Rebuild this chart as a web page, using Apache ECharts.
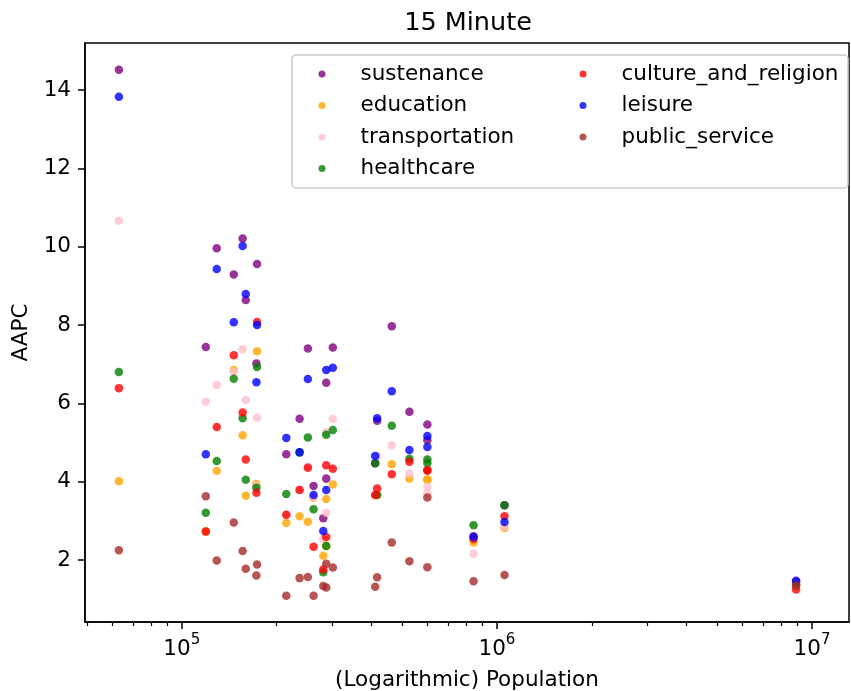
<!DOCTYPE html>
<html>
<head>
<meta charset="utf-8">
<script src="https://cdn.jsdelivr.net/npm/echarts@6/dist/echarts.min.js"></script>
<style>html,body{margin:0;padding:0;background:#fff;}#c{width:851px;height:691px;}</style>
</head>
<body>
<div id="c"></div>
<script>
// Population of each city (x values)
const population = [63150, 119200, 129100, 146200, 156000, 159600, 173300, 172500, 214600, 236500, 251200, 261900, 281200, 287300, 287300, 301500, 416800, 410800, 463800, 527600, 601600, 601600, 843100, 1057000, 8900000];
// AAPC per category (same city order)
const sustenance         = [14.52, 7.44, 9.96, 9.29, 10.21, 8.64, 9.56, 7.02, 4.70, 5.61, 7.40, 3.89, 3.07, 6.53, 4.08, 7.43, 5.56, 4.47, 7.97, 5.79, 5.46, 5.06, 2.61, 3.40, 1.45];
const education          = [4.01, 2.73, 4.28, 6.85, 5.19, 3.64, 7.33, 3.94, 2.95, 3.12, 2.98, 3.60, 2.11, 3.56, 2.36, 3.93, 3.66, 3.66, 4.45, 4.08, 4.06, 4.05, 2.45, 2.82, 1.35];
const transportation     = [10.66, 6.04, 6.47, 6.81, 7.38, 6.09, 5.64, 3.90, 3.16, 3.80, 4.38, 3.62, 2.53, 5.27, 3.21, 5.60, 4.66, 3.66, 4.93, 4.21, 3.87, 3.70, 2.16, 2.85, 1.40];
const healthcare         = [6.80, 3.21, 4.53, 6.63, 5.62, 4.05, 6.93, 3.85, 3.69, 4.75, 5.13, 3.30, 1.69, 5.20, 2.36, 5.32, 3.66, 4.47, 5.43, 4.59, 4.57, 4.47, 2.89, 3.40, 1.38];
const culture_and_religion = [6.39, 2.73, 5.40, 7.23, 5.77, 4.57, 8.08, 3.72, 3.16, 3.79, 4.36, 2.34, 1.76, 4.42, 2.59, 4.33, 3.83, 3.66, 4.19, 4.51, 4.28, 4.30, 2.54, 3.12, 1.25];
const leisure            = [13.83, 4.70, 9.43, 8.07, 10.02, 8.79, 8.00, 6.54, 5.12, 4.75, 6.62, 3.66, 2.74, 6.85, 3.79, 6.91, 5.62, 4.66, 6.31, 4.81, 5.17, 4.89, 2.59, 2.97, 1.47];
const public_service     = [2.25, 3.63, 1.99, 2.96, 2.23, 1.78, 1.89, 1.61, 1.09, 1.54, 1.57, 1.09, 1.34, 1.91, 1.30, 1.81, 1.56, 1.32, 2.45, 1.97, 3.60, 1.82, 1.46, 1.62, 1.35];

const categories = ['sustenance','education','transportation','healthcare','culture_and_religion','leisure','public_service'];
const seriesValues = [sustenance, education, transportation, healthcare, culture_and_religion, leisure, public_service];
const colors = ['#800080','#FFA500','#FFC0CB','#008000','#FF0000','#0000FF','#A52A2A'];

const yTicks = [2, 4, 6, 8, 10, 12, 14];
const xMajor = [1e5, 1e6, 1e7];
const xMinor = [5e4,6e4,7e4,8e4,9e4,2e5,3e5,4e5,5e5,6e5,7e5,8e5,9e5,2e6,3e6,4e6,5e6,6e6,7e6,8e6,9e6];

const FONT = 'DejaVu Sans';
const FS = 21.5;

const chart = echarts.init(document.getElementById('c'), null, {renderer:'canvas'});

const series = categories.map((name, k) => ({
  name: name,
  type: 'scatter',
  symbol: 'circle',
  symbolSize: 8.5,
  itemStyle: {color: colors[k], opacity: 0.8},
  emphasis: {disabled: true},
  data: population.map((p, i) => [p, seriesValues[k][i]])
}));

const legendCommon = {
  orient: 'vertical',
  icon: 'circle',
  itemWidth: 7,
  itemHeight: 7,
  itemGap: 7.5,
  padding: 5,
  selectedMode: false,
  textStyle: {fontFamily: FONT, fontSize: FS, color: '#000', lineHeight: 24, padding: [0,0,0,30]}
};

chart.setOption({
  animation: false,
  backgroundColor: '#fff',
  title: {
    text: '15 Minute',
    left: 463, top: 5,
    textAlign: 'center',
    textStyle: {fontFamily: FONT, fontSize: 25.5, fontWeight: 'normal', color: '#000'}
  },
  grid: {left: 85, right: 2, top: 43, bottom: 69, show: true, borderColor: '#000', borderWidth: 1.5, backgroundColor: 'transparent', outerBoundsMode: 'none', containLabel: false},
  graphic: [{
    type: 'rect', shape: {x: 292, y: 55, width: 556, height: 133, r: 4},
    style: {fill: 'rgba(255,255,255,0.8)', stroke: '#cccccc', lineWidth: 1.5}, z: 50
  }],
  legend: [
    Object.assign({data: categories.slice(0,4), left: 313.5, top: 57, z: 60}, legendCommon),
    Object.assign({data: categories.slice(4), left: 574.5, top: 57, z: 60}, legendCommon)
  ],
  xAxis: [{
    type: 'log', min: 49300, max: 1.31e7, logBase: 10,
    name: '(Logarithmic) Population', nameLocation: 'middle', nameGap: 47,
    nameTextStyle: {fontFamily: FONT, fontSize: FS, color: '#000'},
    axisLine: {show: true, lineStyle: {color: '#000', width: 1.5}},
    axisTick: {show: true, customValues: xMajor, length: 7, lineStyle: {color: '#000', width: 1.5}},
    axisLabel: {
      customValues: xMajor, margin: 11, color: '#000', fontFamily: FONT,
      formatter: v => '{b|10}{s|' + Math.round(Math.log10(v)) + '}',
      rich: {
        b: {fontFamily: FONT, fontSize: FS, color: '#000', lineHeight: 27, verticalAlign: 'bottom'},
        s: {fontFamily: FONT, fontSize: 15, color: '#000', lineHeight: 15, verticalAlign: 'top'}
      }
    },
    splitLine: {show: false}
  }, {
    type: 'log', min: 49300, max: 1.31e7, logBase: 10, position: 'bottom',
    axisLine: {show: false},
    axisTick: {show: true, customValues: xMinor, length: 4, lineStyle: {color: '#000', width: 1.2}},
    axisLabel: {show: false},
    splitLine: {show: false}
  }],
  yAxis: {
    type: 'value', min: 0.42, max: 15.2,
    name: 'AAPC', nameLocation: 'middle', nameGap: 53,
    nameTextStyle: {fontFamily: FONT, fontSize: FS, color: '#000'},
    axisLine: {show: true, lineStyle: {color: '#000', width: 1.5}},
    axisTick: {show: true, customValues: yTicks, length: 7, lineStyle: {color: '#000', width: 1.5}},
    axisLabel: {customValues: yTicks, margin: 14, fontFamily: FONT, fontSize: FS, color: '#000'},
    splitLine: {show: false}
  },
  series: series
});
</script>
</body>
</html>
